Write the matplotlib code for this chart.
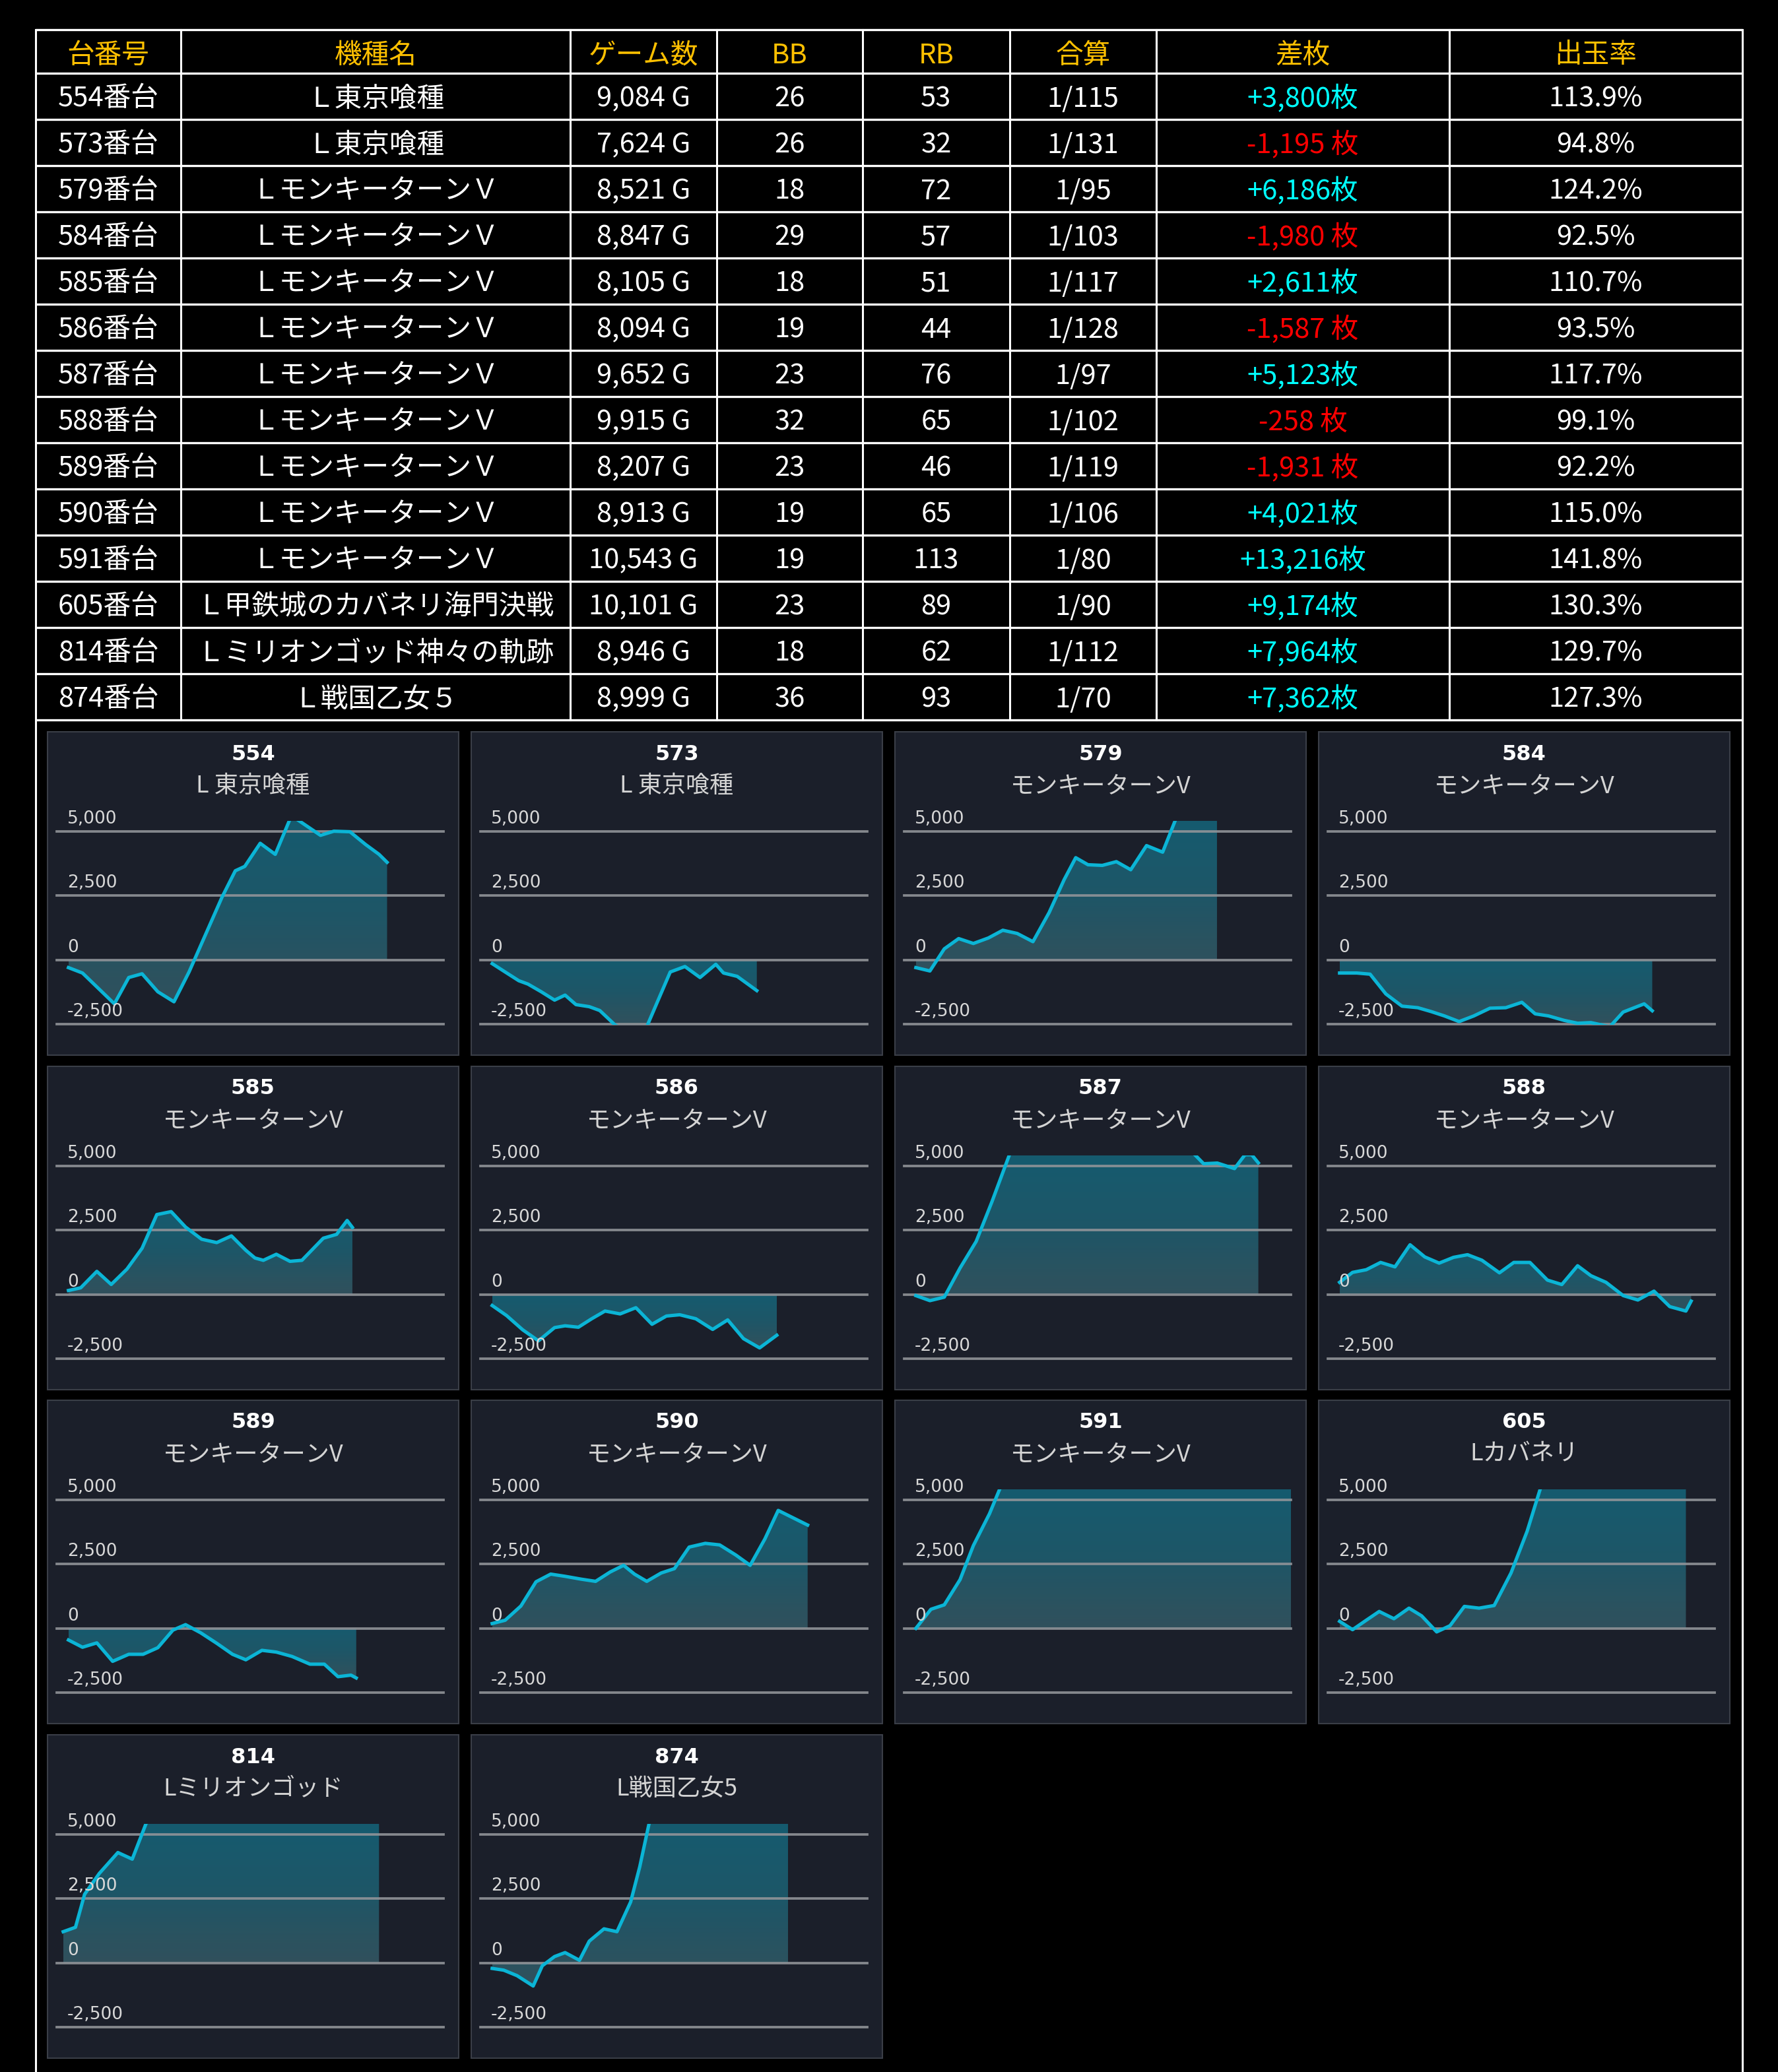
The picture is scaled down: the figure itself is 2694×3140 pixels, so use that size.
import numpy as np
import matplotlib
matplotlib.use('Agg')
import matplotlib.pyplot as plt
import matplotlib.transforms as mtransforms
from matplotlib.patches import Rectangle
from matplotlib.colors import LinearSegmentedColormap

# ---- table data ----
machine_no = [554, 573, 579, 584, 585, 586, 587, 588, 589, 590, 591, 605, 814, 874]
machine_name = ['Ｌ東京喰種', 'Ｌ東京喰種'] + ['Ｌモンキーターン\uFF36'] * 9 + \
               ['Ｌ甲鉄城のカバネリ海門決戦', 'Ｌミリオンゴッド神々の軌跡', 'Ｌ戦国乙女５']
games = [9084, 7624, 8521, 8847, 8105, 8094, 9652, 9915, 8207, 8913, 10543, 10101, 8946, 8999]
bb = [26, 26, 18, 29, 18, 19, 23, 32, 23, 19, 19, 23, 18, 36]
rb = [53, 32, 72, 57, 51, 44, 76, 65, 46, 65, 113, 89, 62, 93]
combined = [115, 131, 95, 103, 117, 128, 97, 102, 119, 106, 80, 90, 112, 70]
diff = [3800, -1195, 6186, -1980, 2611, -1587, 5123, -258, -1931, 4021, 13216, 9174, 7964, 7362]
rate = [113.9, 94.8, 124.2, 92.5, 110.7, 93.5, 117.7, 99.1, 92.2, 115.0, 141.8, 130.3, 129.7, 127.3]
headers = ['台番号', '機種名', 'ゲーム数', 'BB', 'RB', '合算', '差枚', '出玉率']

# ---- slump graph data (x: games, y: coins) ----
short_name = ['L 東京喰種', 'L 東京喰種'] + ['モンキーターンV'] * 9 + ['Lカバネリ', 'Lミリオンゴッド', 'L戦国乙女5']

x554 = [0, 400, 1310, 1720, 2100, 2550, 3010, 3440, 4380, 4760, 5030, 5470, 5900, 6320, 6510, 7190, 7570, 8030, 8480, 8860, 9090]
y554 = [-300, -510, -1710, -685, -540, -1240, -1630, -470, 2440, 3470, 3640, 4540, 4110, 5480, 5480, 4850, 5010, 4990, 4490, 4110, 3800]
x573 = [0, 370, 760, 1020, 1400, 1780, 2080, 2390, 2770, 3070, 3500, 3950, 4410, 5080, 5500, 5930, 6380, 6600, 6990, 7550]
y573 = [-145, -470, -810, -940, -1240, -1565, -1370, -1740, -1820, -1970, -2525, -2900, -2600, -470, -257, -685, -170, -510, -640, -1195]
x579 = [0, 400, 810, 1220, 1640, 2070, 2480, 2890, 3340, 3800, 4230, 4560, 4910, 5320, 5720, 6130, 6580, 7040, 7420, 7800, 8590]
y579 = [-300, -430, 430, 830, 640, 855, 1155, 1030, 710, 1840, 3125, 3980, 3705, 3680, 3825, 3510, 4450, 4195, 5500, 5900, 6186]
x584 = [0, 490, 870, 1320, 1780, 2230, 2610, 2990, 3410, 3830, 4290, 4740, 5200, 5580, 5960, 6410, 6790, 7170, 7710, 8090, 8690, 8920]
y584 = [-510, -510, -555, -1325, -1800, -1860, -2010, -2180, -2400, -2180, -1880, -1860, -1650, -2100, -2180, -2355, -2465, -2440, -2600, -2030, -1710, -1980]
x585 = [0, 350, 810, 1220, 1670, 2100, 2520, 2930, 3340, 3800, 4230, 4650, 5060, 5320, 5560, 5930, 6320, 6660, 7270, 7650, 7950, 8100]
y585 = [155, 260, 900, 390, 990, 1800, 3110, 3225, 2625, 2150, 2020, 2280, 1720, 1420, 1330, 1565, 1290, 1330, 2190, 2340, 2880, 2611]
x586 = [0, 410, 870, 1320, 1780, 2080, 2460, 2840, 3220, 3650, 4100, 4560, 4970, 5350, 5810, 6290, 6720, 7170, 7630, 8120]
y586 = [-430, -820, -1375, -1805, -1290, -1220, -1275, -945, -645, -757, -515, -1160, -840, -790, -945, -1360, -990, -1720, -2080, -1587]
x587 = [0, 400, 810, 1260, 1720, 2170, 2680, 4500, 6500, 7950, 8210, 8600, 9090, 9390, 9580, 9770]
y587 = [-45, -240, -105, 1030, 2065, 3610, 5480, 6500, 6800, 5450, 5090, 5115, 4900, 5440, 5440, 5123]
x588 = [0, 370, 760, 1170, 1580, 2010, 2430, 2840, 3250, 3650, 4060, 4560, 4970, 5430, 5930, 6340, 6790, 7170, 7600, 8090, 8510, 8970, 9420, 9880, 10030]
y588 = [473, 860, 963, 1247, 1075, 1935, 1462, 1220, 1445, 1548, 1333, 843, 1247, 1247, 559, 387, 1118, 731, 473, -43, -215, 129, -473, -645, -258]
x589 = [0, 400, 810, 1260, 1720, 2130, 2550, 2980, 3340, 3770, 4230, 4680, 5060, 5520, 5930, 6380, 6890, 7300, 7690, 8060, 8210]
y589 = [-453, -735, -565, -1283, -1009, -1009, -752, -68, 145, -171, -581, -1009, -1223, -855, -923, -1094, -1394, -1394, -1881, -1821, -1931]
x590 = [0, 370, 820, 1250, 1670, 2080, 2540, 2950, 3370, 3750, 4060, 4410, 4820, 5200, 5620, 6080, 6490, 6950, 7360, 7780, 8160, 9000]
y590 = [188, 316, 872, 1813, 2112, 2026, 1915, 1830, 2197, 2454, 2112, 1830, 2155, 2326, 3164, 3309, 3249, 2856, 2454, 3480, 4591, 4021]
x591 = [0, 430, 810, 1260, 1640, 2100, 2400, 4500, 6500, 8500, 10800]
y591 = [0, 744, 915, 1898, 3223, 4463, 5450, 7800, 9500, 11300, 13216]
x605 = [0, 370, 760, 1130, 1550, 1980, 2340, 2770, 3150, 3560, 3980, 4410, 4890, 5350, 5730, 7500, 9880]
y605 = [274, -51, 316, 658, 376, 787, 487, -137, 103, 855, 787, 889, 2155, 3779, 5450, 7600, 9174]
x814 = [-150, 200, 460, 880, 1410, 1820, 2220, 5000, 8860]
y814 = [1216, 1387, 2671, 3484, 4297, 4040, 5450, 7000, 7964]
x874 = [0, 330, 710, 1170, 1430, 1780, 2080, 2490, 2770, 3190, 3560, 3950, 4210, 4480, 6500, 8440]
y874 = [-214, -282, -496, -899, -111, 248, 402, 103, 847, 1327, 1216, 2371, 3741, 5450, 6800, 7362]

graph_x = [x554, x573, x579, x584, x585, x586, x587, x588, x589, x590, x591, x605, x814, x874]
graph_y = [y554, y573, y579, y584, y585, y586, y587, y588, y589, y590, y591, y605, y814, y874]
grid_vals = [5000, 2500, 0, -2500]
grid_labels = ['5,000', '2,500', '0', '-2,500']

# ---- figure ----
W, H = 2694, 3140
fig = plt.figure(figsize=(W / 100, H / 100), dpi=100, facecolor='black')
bg = fig.add_axes([0, 0, 1, 1])
bg.set_xlim(0, W)
bg.set_ylim(H, 0)
bg.axis('off')

jp = ['Noto Sans CJK JP', 'DejaVu Sans']
gold = '#FFC000'

# table grid
col_edges = [54, 274, 864, 1086, 1307, 1530, 1752, 2196, 2640]
head_top, head_bot, row_h = 45, 111, 70
n_rows = len(machine_no)
tab_bot = head_bot + row_h * n_rows
row_edges = [head_top] + [head_bot + row_h * i for i in range(n_rows + 1)]
for yy in row_edges:
    bg.plot([col_edges[0], col_edges[-1]], [yy, yy], color='white', lw=2.4, solid_capstyle='butt')
for xx in col_edges[1:-1]:
    bg.plot([xx, xx], [head_top, tab_bot], color='white', lw=2.2)
for xx in (col_edges[0], col_edges[-1]):
    bg.plot([xx, xx], [head_top, H], color='white', lw=2.2)

centers = [(a + b) / 2 for a, b in zip(col_edges[:-1], col_edges[1:])]
for c, h in zip(centers, headers):
    bg.text(c, (head_top + head_bot) / 2 + 6, h, ha='center', va='center',
            fontsize=30, color=gold, family=jp)

for i in range(n_rows):
    yc = head_bot + row_h * i + row_h / 2 + 4
    d = diff[i]
    dtxt = f'+{d:,}枚' if d > 0 else f'{d:,} 枚'
    dcol = '#00FFFF' if d > 0 else '#FF0000'
    cells = [f'{machine_no[i]}番台', machine_name[i], f'{games[i]:,} G', str(bb[i]),
             str(rb[i]), f'1/{combined[i]}', dtxt, f'{rate[i]:.1f}%']
    colors = ['white'] * 6 + [dcol, 'white']
    for c, t, col in zip(centers, cells, colors):
        bg.text(c, yc, t, ha='center', va='center', fontsize=30, color=col, family=jp)

# ---- slump panels ----
panel_w, panel_h = 623, 490
col_x = [72, 714, 1356, 1998]
row_y = [1109, 1616, 2122, 2629]
ylo, yhi = -2520, 5420
xlo, xhi = -334, 10700
ax_top_off, ax_h = 134.7, 309.1

cmap = LinearSegmentedColormap.from_list('fillgrad', ['#33535f', '#1f5a6b', '#155f73'])

for k in range(len(machine_no)):
    left = col_x[k % 4]
    top = row_y[k // 4]
    bg.add_patch(Rectangle((left, top), panel_w, panel_h, facecolor='#1b1f2a',
                           edgecolor='#3a3e47', lw=1.5))
    bg.text(left + panel_w / 2, top + 34, str(machine_no[k]), ha='center', va='center',
            fontsize=23, weight='bold', color='white', family='DejaVu Sans')
    bg.text(left + panel_w / 2, top + 82, short_name[k], ha='center', va='center',
            fontsize=26, color='#d4d4d4', family=jp)

    ax = fig.add_axes([(left + 14) / W, 1 - (top + ax_top_off + ax_h) / H,
                       586 / W, ax_h / H])
    ax.set_facecolor('none')
    ax.axis('off')

    x = np.array(graph_x[k], dtype=float)
    y = np.array(graph_y[k], dtype=float)

    poly = ax.fill_between(x, y, 0, facecolor='none', lw=0)
    gtop = min(max(y.max(), 0), yhi)
    gbot = max(min(y.min(), 0), ylo)
    grad = np.linspace(0, 1, 256).reshape(-1, 1)
    im = ax.imshow(grad, extent=[x[0], x[-1], gbot, gtop], origin='lower', aspect='auto',
                   cmap=cmap, zorder=1, interpolation='bilinear', alpha=0.95)
    im.set_clip_path(poly.get_paths()[0], transform=ax.transData)

    for v in grid_vals:
        ax.axhline(v, color='#919499', lw=2.7, zorder=2, alpha=0.9, clip_on=False)
    trans = mtransforms.blended_transform_factory(ax.transAxes, ax.transData)
    trans = mtransforms.offset_copy(trans, fig=fig, x=0, y=12, units='dots')
    for v, lab in zip(grid_vals, grid_labels):
        ax.text(0.027, v, lab, transform=trans, ha='left', va='baseline', fontsize=19,
                color='#d8d8d8', family='DejaVu Sans', zorder=5)

    ax.plot(x, y, color='#0bb5d6', lw=3.7, zorder=4, solid_joinstyle='round')
    ax.set_xlim(xlo, xhi)
    ax.set_ylim(ylo, yhi)

fig.savefig('out.png', dpi=100, facecolor='black')
